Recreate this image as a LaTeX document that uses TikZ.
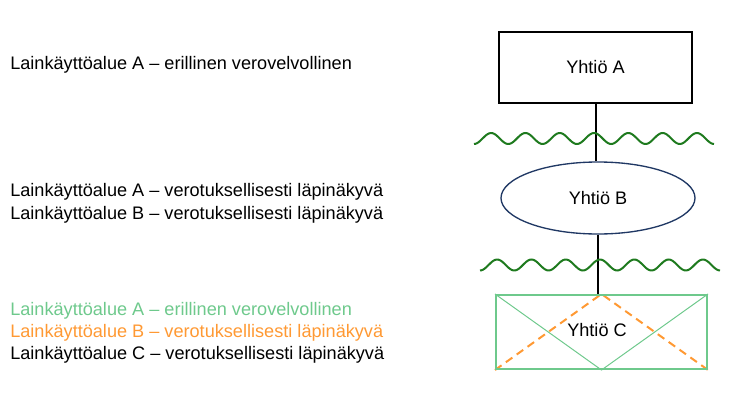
\documentclass[tikz,border=0pt]{standalone}
\usepackage{fontspec}
\setmainfont{Liberation Sans}
\usetikzlibrary{shapes.geometric}

\definecolor{lawgreen}{RGB}{110,201,140}
\definecolor{laworange}{RGB}{255,153,51}
\definecolor{wavegreen}{RGB}{30,122,30}
\definecolor{navyline}{RGB}{32,56,100}

\begin{document}
\begin{tikzpicture}[
    x=0.75pt, y=-0.75pt,
    every node/.style={font=\fontsize{13.6}{16}\selectfont},
    company/.style={draw=black, line width=1.1pt, minimum width=144.75pt, minimum height=53.25pt},
    transparent/.style={ellipse, draw=navyline, line width=1pt, minimum width=145.5pt, minimum height=54pt},
    hybrid/.style={draw=lawgreen, line width=1.5pt, minimum width=158.25pt, minimum height=55.5pt},
    link/.style={-, line width=1pt, black},
    wave/.style={line width=1.5pt, wavegreen},
    law label/.style={anchor=west, inner sep=0pt}
]
\useasboundingbox (0,0) rectangle (733,400);

% Jurisdiction labels
\node[law label] (tA) at (10,64.5) {Lainkäyttöalue A – erillinen verovelvollinen};
\node[law label] (tBa) at (10,191.5) {Lainkäyttöalue A – verotuksellisesti läpinäkyvä};
\node[law label] (tBb) at (10,214.5) {Lainkäyttöalue B – verotuksellisesti läpinäkyvä};
\node[law label, text=lawgreen] (tCa) at (10,310.5) {Lainkäyttöalue A – erillinen verovelvollinen};
\node[law label, text=laworange] (tCb) at (10,332.5) {Lainkäyttöalue B – verotuksellisesti läpinäkyvä};
\node[law label] (tCc) at (10,354.5) {Lainkäyttöalue C – verotuksellisesti läpinäkyvä};

% Companies
\node[company] (A) at (595.5,67.5) {};
\node[transparent] (B) at (598,198) {};
\node[hybrid] (C) at (601.5,332) {};

% Box C crosses
\draw[lawgreen, line width=0.75pt] (C.north west) -- (C.south) -- (C.north east);
\draw[laworange, line width=1.5pt, dash pattern=on 6pt off 4pt] (C.south west) -- (C.north) -- (C.south east);
\node[hybrid] (Cframe) at (C) {};

% Names
\node (nA) at (A) {Yhtiö A};
\node (nB) at (B) {Yhtiö B};
\node (nC) at (597,330) {Yhtiö C};

% Ownership links
\draw[link] (A.south -| 596,0) -- (B.north -| 596,0);
\draw[link] (B.south) -- (B.south |- C.north);

% Borders
\draw[wave] plot[domain=0:240, samples=160, smooth] ({474+\x}, {138.5+5.5*cos(\x/34.3*360)});
\draw[wave] plot[domain=0:240, samples=160, smooth] ({480+\x}, {265+5.5*cos(\x/34.3*360)});

\end{tikzpicture}
\end{document}
